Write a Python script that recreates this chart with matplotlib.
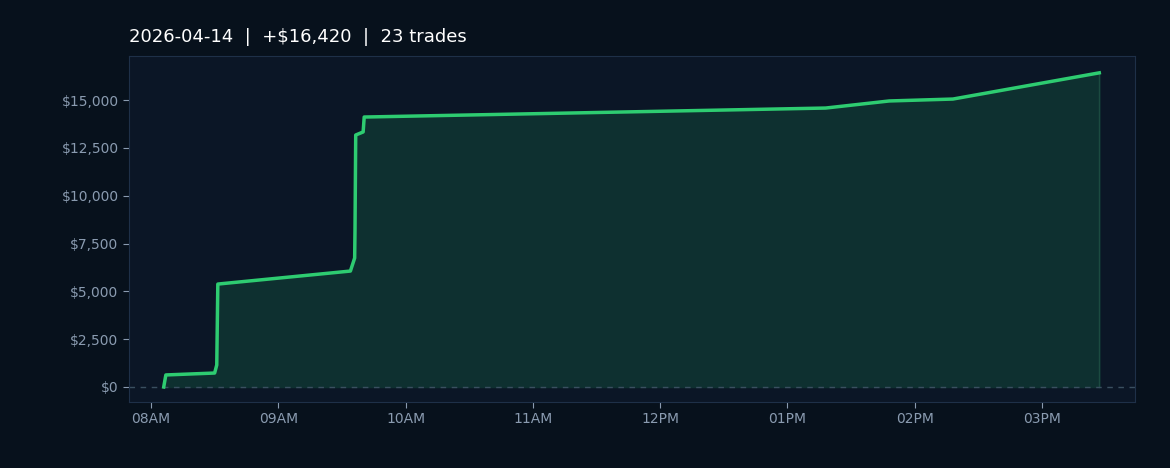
import matplotlib
matplotlib.use("Agg")
import matplotlib.pyplot as plt
import matplotlib.dates as mdates
import pandas as pd

times = ["08:06:00","08:07:00","08:30:00","08:31:00","08:31:30","09:34:00","09:36:00","09:36:10","09:36:30",
         "09:40:00","09:40:30","13:18:00","13:48:00","14:18:00","15:27:00"]
pnl = [0, 630, 730, 1150, 5380, 6060, 6740, 8200, 13170, 13330, 14110, 14580, 14950, 15050, 16420]
title = "2026-04-14  |  +$16,420  |  23 trades"

t = pd.to_datetime(["2026-04-14 " + s for s in times], format="%Y-%m-%d %H:%M:%S")

fig = plt.figure(figsize=(11.7, 4.68), dpi=100, facecolor="#07111c")
ax = fig.add_axes([129/1170, 1-402/468, (1135-129)/1170, (402-56)/468])
ax.set_facecolor("#0b1626")
ax.fill_between(t, pnl, 0, color="#0e3030", zorder=1)
ax.plot([t[-1], t[-1]], [0, pnl[-1]], color="#1b4a40", lw=1, zorder=1)
ax.plot(t, pnl, color="#2ecc71", lw=2.5, zorder=3)
ax.axhline(0, color="#3a4f60", lw=1, ls=(0, (4, 4)), zorder=2)
ax.set_xlim(pd.Timestamp("2026-04-14 07:49:38"), pd.Timestamp("2026-04-14 15:43:50"))
ax.set_ylim(-784, 17300)
ax.xaxis.set_major_locator(mdates.HourLocator())
ax.xaxis.set_major_formatter(mdates.DateFormatter("%I%p"))
ax.yaxis.set_major_locator(plt.MultipleLocator(2500))
ax.yaxis.set_major_formatter(plt.FuncFormatter(lambda v, p: f"${v:,.0f}"))
ax.tick_params(colors="#8a9bb0", labelsize=10, length=4)
for s in ax.spines.values():
    s.set_color("#1e3048")
ax.set_title(title, loc="left", color="white", fontsize=13, pad=10)
fig.savefig("out.png", facecolor=fig.get_facecolor())
